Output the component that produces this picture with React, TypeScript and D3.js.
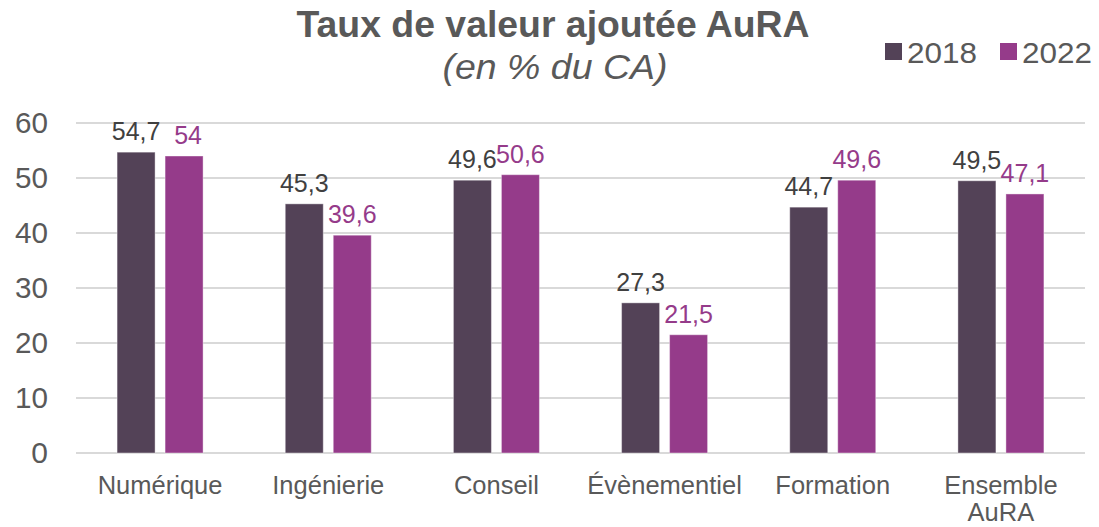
import React from "react";
import * as d3 from "d3";

const categories: string[][] = [["Numérique"], ["Ingénierie"], ["Conseil"], ["Évènementiel"], ["Formation"], ["Ensemble", "AuRA"]];
const series2018: number[] = [54.7, 45.3, 49.6, 27.3, 44.7, 49.5];
const series2022: number[] = [54, 39.6, 50.6, 21.5, 49.6, 47.1];
const seriesNames: string[] = ["2018", "2022"];
const yTicks: number[] = [0, 10, 20, 30, 40, 50, 60];

const W = 1099, H = 527;
const FONT = "'Liberation Sans', Arial, sans-serif";
const C2018 = "#534257";
const C2022 = "#953B8A";

const fmt = (v: number) => String(v).replace(".", ",");

export default function App() {
  const left = 76, right = 1085, top = 123, bottom = 453;
  const x = d3.scaleBand<number>().domain(categories.map((_, i) => i)).range([left, right]);
  const y = d3.scaleLinear().domain([0, 60]).range([bottom, top]);
  const barW = 38, gap = 10;
  const data = [series2018, series2022];
  const colors = [C2018, C2022];
  const labelColors = ["#404040", C2022];
  return (
    <svg width={W} height={H} style={{ position: "absolute", left: 0, top: 0, background: "#fff" }} fontFamily={FONT}>
      <rect width={W} height={H} fill="#fff" />
      {yTicks.map((t) => (
        <g key={t}>
          <line x1={left} x2={right} y1={y(t)} y2={y(t)} stroke="#d9d9d9" strokeWidth={2} />
          <text x={48} y={y(t) + 10} textAnchor="end" fontSize={30} fill="#595959" textLength={t === 0 ? undefined : 33} lengthAdjust="spacingAndGlyphs">{t}</text>
        </g>
      ))}
      {data.map((s, si) =>
        s.map((v, i) => {
          const cx = x(i)! + x.bandwidth() / 2;
          const bx = si === 0 ? cx - gap / 2 - barW : cx + gap / 2;
          return (
            <g key={`${si}-${i}`}>
              <rect x={bx} y={y(v)} width={barW} height={y(0) - y(v)} fill={colors[si]} stroke="#ffffff" strokeOpacity={0.4} strokeWidth={1} />
              <text x={bx + barW / 2 + (si === 1 && v === 54 ? 4 : 0)} y={y(v) - 12} textAnchor="middle" fontSize={25} fill={labelColors[si]}>{fmt(v)}</text>
            </g>
          );
        })
      )}
      {categories.map((lines, i) => (
        <text key={i} x={x(i)! + x.bandwidth() / 2} y={494} textAnchor="middle" fontSize={25.5} fill="#595959">
          {lines.map((l, j) => (
            <tspan key={j} x={x(i)! + x.bandwidth() / 2} dy={j === 0 ? 0 : 27}>{l}</tspan>
          ))}
        </text>
      ))}
      <text x={553} y={37} textAnchor="middle" fontSize={36} fontWeight="bold" fill="#595959" textLength={513} lengthAdjust="spacingAndGlyphs">Taux de valeur ajoutée AuRA</text>
      <text x={555} y={79} textAnchor="middle" fontSize={35} fontStyle="italic" fill="#595959" textLength={225} lengthAdjust="spacingAndGlyphs">(en % du CA)</text>
      {seriesNames.map((n, i) => (
        <g key={n} transform={`translate(${885 + i * 115},0)`}>
          <rect x={0} y={43} width={17} height={17} fill={colors[i]} />
          <text x={22} y={63} fontSize={30} fill="#595959" textLength={70} lengthAdjust="spacingAndGlyphs">{n}</text>
        </g>
      ))}
    </svg>
  );
}
